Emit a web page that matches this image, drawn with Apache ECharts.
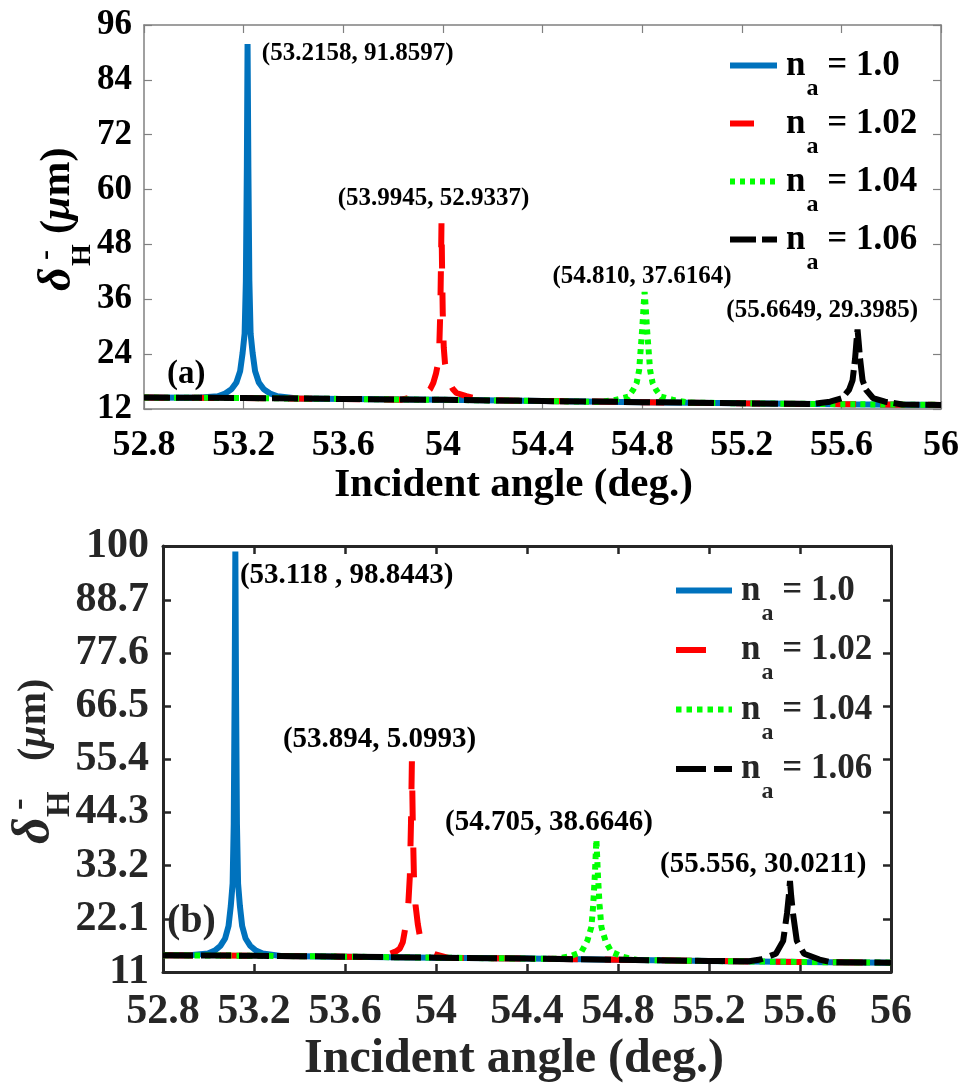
<!DOCTYPE html>
<html>
<head>
<meta charset="utf-8">
<script src="https://cdn.jsdelivr.net/npm/echarts@6/dist/echarts.min.js"></script>
<style>
html, body { margin: 0; padding: 0; background: #fff; }
#chart { width: 962px; height: 1085px; }
</style>
</head>
<body>
<div id="chart"></div>
<script>
var naLabels = ['1.0', '1.02', '1.04', '1.06'];
var colors = ['#0072bd', '#ff0000', '#00ff00', '#000000'];

// floor of the curves, read every 0.4 deg
var baseAngles = [52.8, 53.2, 53.6, 54.0, 54.4, 54.8, 55.2, 55.6, 56.0];
var baseA = [14.5, 14.4, 14.2, 14.0, 13.75, 13.5, 13.25, 13.05, 12.9];
var baseB = [14.5, 14.4, 14.2, 14.0, 13.8, 13.55, 13.3, 13.1, 12.95];

// panel (a) resonances
var angA1 = [53.016, 53.096, 53.126, 53.151, 53.171, 53.186, 53.196, 53.204, 53.209, 53.213, 53.2158, 53.219, 53.223, 53.228, 53.236, 53.246, 53.261, 53.281, 53.306, 53.336, 53.416];
var valA1 = [14.45, 14.8, 15.4, 16.3, 17.8, 20.3, 24.3, 28.5, 40, 65, 91.8597, 65, 40, 28.5, 24.3, 20.3, 17.8, 16.3, 15.4, 14.8, 14.3];
var angA2 = [53.8345, 53.8945, 53.9345, 53.9495, 53.9615, 53.9725, 53.9805, 53.9855, 53.9895, 53.9925, 53.9945, 53.9965, 53.9995, 54.0035, 54.0085, 54.0165, 54.0275, 54.0395, 54.0545, 54.0945, 54.1545];
var valA2 = [14.05, 14.8, 15.5, 16.4, 17.7, 19.8, 22, 25.5, 33, 44, 52.9337, 44, 33, 25.5, 22, 19.8, 17.7, 16.4, 15.5, 14.8, 13.95];
var angA3 = [54.63, 54.693, 54.744, 54.764, 54.778, 54.788, 54.794, 54.801, 54.806, 54.81, 54.814, 54.819, 54.826, 54.832, 54.842, 54.856, 54.876, 54.927, 54.99];
var valA3 = [13.55, 14.0, 14.7, 16.2, 17.7, 20.5, 24.9, 30, 34.5, 37.6164, 34.5, 30, 24.9, 20.5, 17.7, 16.2, 14.7, 13.95, 13.4];
var angA4 = [55.485, 55.555, 55.603, 55.631, 55.645, 55.655, 55.6609, 55.6649, 55.6689, 55.675, 55.685, 55.699, 55.727, 55.775, 55.845];
var valA4 = [13.1, 13.6, 14.4, 16.2, 18.3, 23, 27, 29.3985, 27, 23, 18.3, 16.2, 14.4, 13.6, 13.0];

// panel (b) resonances
var angB1 = [52.918, 52.998, 53.028, 53.053, 53.073, 53.088, 53.098, 53.106, 53.111, 53.115, 53.118, 53.121, 53.125, 53.130, 53.138, 53.148, 53.163, 53.183, 53.208, 53.238, 53.318];
var valB1 = [14.5, 14.85, 15.5, 16.5, 18.0, 20.6, 24.8, 29.5, 42, 70, 98.8443, 70, 42, 29.5, 24.8, 20.6, 18.0, 16.5, 15.5, 14.85, 14.35];
var angB2 = [53.734, 53.794, 53.824, 53.841, 53.854, 53.868, 53.878, 53.885, 53.890, 53.894, 53.898, 53.903, 53.910, 53.920, 53.934, 53.947, 53.964, 53.994, 54.054];
var valB2 = [14.1, 14.75, 15.3, 15.9, 17.2, 21, 25, 31, 42, 55.0, 42, 31, 25, 21, 17.2, 15.9, 15.3, 14.75, 13.95];
var angB3 = [54.525, 54.59, 54.639, 54.665, 54.683, 54.691, 54.698, 54.702, 54.705, 54.708, 54.712, 54.719, 54.727, 54.745, 54.771, 54.82, 54.885];
var valB3 = [13.75, 14.3, 15.2, 17.5, 20.4, 25, 31, 35.5, 38.6646, 35.5, 31, 25, 20.4, 17.5, 15.2, 14.2, 13.5];
var angB4 = [55.376, 55.426, 55.494, 55.526, 55.543, 55.551, 55.556, 55.561, 55.569, 55.586, 55.618, 55.686, 55.736];
var valB4 = [13.25, 13.6, 14.8, 17.5, 23.3, 27, 30.0211, 27, 23.3, 17.5, 14.8, 13.6, 13.05];

var peakTextA = ['(53.2158, 91.8597)', '(53.9945, 52.9337)', '(54.810, 37.6164)', '(55.6649, 29.3985)'];
var peakTextB = ['(53.118 , 98.8443)', '(53.894, 5.0993)', '(54.705, 38.6646)', '(55.556, 30.0211)'];

var yTicksB = [11, 22.1, 33.2, 44.3, 55.4, 66.5, 77.6, 88.7, 100];

var FONT = '"Liberation Serif", "Times New Roman", serif';
var GREY = '#262626';

// where each peak caption sits (data coordinates of its left-middle point)
var captionAtA = [[53.273, 89.66], [53.578, 57.94], [54.440, 40.875], [55.138, 33.44]];
var captionAtB = [[53.138, 93.8], [53.327, 59.5], [54.040, 42.3], [54.985, 33.4]];

var dashA = ['solid', [24, 24], [5, 5], [26, 6]];
var dashB = ['solid', [30, 27], [5.5, 5], [30, 8]];

function withBaseline(bx, by, px, py) {
    var pts = [];
    var lo = px[0], hi = px[px.length - 1];
    bx.forEach(function (x, i) { if (x < lo) pts.push([x, by[i]]); });
    px.forEach(function (x, i) { pts.push([x, py[i]]); });
    bx.forEach(function (x, i) { if (x > hi) pts.push([x, by[i]]); });
    return pts;
}

var peaksA = [[angA1, valA1], [angA2, valA2], [angA3, valA3], [angA4, valA4]];
var peaksB = [[angB1, valB1], [angB2, valB2], [angB3, valB3], [angB4, valB4]];

function makeSeries(tag, axisIdx, peaks, base, dash, texts, at, fontSize) {
    return peaks.map(function (p, i) {
        return {
            name: tag + '|' + naLabels[i],
            type: 'line',
            xAxisIndex: axisIdx,
            yAxisIndex: axisIdx,
            data: withBaseline(baseAngles, base, p[0], p[1]),
            symbol: 'none',
            lineStyle: {color: colors[i], width: 6, type: dash[i]},
            itemStyle: {color: colors[i]},
            markPoint: {
                symbol: 'circle',
                symbolSize: 0,
                silent: true,
                label: {
                    show: true,
                    position: [0, 0],
                    align: 'left',
                    verticalAlign: 'middle',
                    formatter: texts[i],
                    fontFamily: FONT,
                    fontWeight: 'bold',
                    fontSize: fontSize,
                    color: '#000'
                },
                data: [{coord: at[i]}]
            }
        };
    });
}

function xAxisFor(grid, pos, show, o) {
    return {
        type: 'value', gridIndex: grid, position: pos,
        min: 52.8, max: 56, interval: 0.4,
        axisLine: {show: true, onZero: false, lineStyle: {color: o.line, width: o.lw}},
        axisTick: {show: true, inside: true, length: 8, lineStyle: {color: o.line, width: o.tw}},
        axisLabel: {
            show: show, margin: o.margin, fontFamily: FONT, fontWeight: 'bold',
            fontSize: o.fs, color: o.color, showMinLabel: true, showMaxLabel: true
        },
        splitLine: {show: false},
        name: show ? 'Incident angle (deg.)' : '',
        nameLocation: 'middle',
        nameGap: o.nameGap,
        nameTextStyle: {
            fontFamily: FONT, fontWeight: 'bold', fontSize: o.nfs, color: o.color,
            padding: [0, o.shift, 0, 0]
        }
    };
}

var styleA = {line: '#808080', lw: 1.5, tw: 1.2, margin: 19, fs: 36, color: '#000', nameGap: 55, nfs: 41, shift: 58};
var styleB = {line: GREY, lw: 3, tw: 2.5, margin: 19, fs: 42, color: GREY, nameGap: 64, nfs: 48, shift: 26};

var legendRich = function (color) {
    return {
        n: {fontFamily: FONT, fontWeight: 'bold', fontSize: 35, color: color, padding: [0, 0, 0, 4]},
        s: {fontFamily: FONT, fontWeight: 'bold', fontSize: 24, color: color, padding: [46, 0, 0, 1]},
        v: {fontFamily: FONT, fontWeight: 'bold', fontSize: 35, color: color}
    };
};
var legendFmt = function (name) {
    return '{n|n}{s|a}{v| = ' + name.split('|')[1] + '}';
};

function yTitle(x, y, color, d) {
    var t = function (text, lx, ly, size, italic) {
        return {
            type: 'text', x: lx, y: ly,
            style: {
                text: text, fontFamily: FONT, fontWeight: 'bold', fontStyle: italic ? 'italic' : 'normal',
                fontSize: size, fill: color, align: 'left', verticalAlign: 'middle'
            }
        };
    };
    return {
        type: 'group', x: x, y: y, rotation: Math.PI / 2,
        children: [
            t('δ', 0, 0, d.delta, true),
            t('H', d.hx, 25, d.sub, false),
            t('-', d.mx, d.my, d.sub + 2, false),
            t('(', d.px, 0, d.paren, false),
            t('μ', d.px + d.paren * 0.333, 0, d.paren, true),
            t('m)', d.px + d.paren * 0.333 + d.paren * 0.56, 0, d.paren, false)
        ]
    };
}

var chart = echarts.init(document.getElementById('chart'));

var option = {
    animation: false,
    backgroundColor: '#fff',
    grid: [
        {left: 144, top: 25, width: 798, height: 384},
        {left: 163, top: 546, width: 728, height: 430}
    ],
    xAxis: [
        xAxisFor(0, 'bottom', true, styleA),
        xAxisFor(0, 'top', false, styleA),
        xAxisFor(1, 'bottom', true, styleB),
        xAxisFor(1, 'top', false, styleB)
    ],
    yAxis: [
        {
            type: 'value', gridIndex: 0, position: 'left', min: 12, max: 96, interval: 12,
            axisLine: {show: true, lineStyle: {color: styleA.line, width: styleA.lw}},
            axisTick: {inside: true, length: 8, lineStyle: {color: styleA.line, width: styleA.tw}},
            axisLabel: {margin: 12, fontFamily: FONT, fontWeight: 'bold', fontSize: 35, color: '#000'},
            splitLine: {show: false}
        },
        {
            type: 'value', gridIndex: 0, position: 'right', min: 12, max: 96, interval: 12,
            axisLine: {show: true, lineStyle: {color: styleA.line, width: styleA.lw}},
            axisTick: {inside: true, length: 8, lineStyle: {color: styleA.line, width: styleA.tw}},
            axisLabel: {show: false},
            splitLine: {show: false}
        },
        {
            type: 'value', gridIndex: 1, position: 'left', min: 11, max: 100,
            axisLine: {show: true, lineStyle: {color: GREY, width: 3}},
            axisTick: {inside: true, length: 8, customValues: yTicksB, lineStyle: {color: GREY, width: 2.5}},
            axisLabel: {
                margin: 14, customValues: yTicksB, fontFamily: FONT, fontWeight: 'bold',
                fontSize: 42, color: GREY
            },
            splitLine: {show: false}
        },
        {
            type: 'value', gridIndex: 1, position: 'right', min: 11, max: 100,
            axisLine: {show: true, lineStyle: {color: GREY, width: 3}},
            axisTick: {inside: true, length: 8, customValues: yTicksB, lineStyle: {color: GREY, width: 2.5}},
            axisLabel: {show: false},
            splitLine: {show: false}
        }
    ],
    legend: [
        {
            left: 722, top: 43, orient: 'vertical',
            itemWidth: 47, itemHeight: 14, itemGap: 5.5,
            data: naLabels.map(function (v) { return 'a|' + v; }),
            formatter: legendFmt,
            textStyle: {rich: legendRich('#000')},
            lineStyle: {width: 6},
            itemStyle: {opacity: 0},
            selectedMode: false
        },
        {
            left: 668, top: 568, orient: 'vertical',
            itemWidth: 56, itemHeight: 14, itemGap: 7,
            data: naLabels.map(function (v) { return 'b|' + v; }),
            formatter: legendFmt,
            textStyle: {rich: legendRich(GREY)},
            lineStyle: {width: 6},
            itemStyle: {opacity: 0},
            selectedMode: false
        }
    ],
    graphic: [
        {
            type: 'text', left: 167, top: 358,
            style: {text: '(a)', fontFamily: FONT, fontWeight: 'bold', fontSize: 33, fill: '#000'}
        },
        {
            type: 'text', left: 167, top: 902,
            style: {text: '(b)', fontFamily: FONT, fontWeight: 'bold', fontSize: 40, fill: GREY}
        },
        yTitle(58, 291, '#000', {delta: 46, sub: 28, hx: 25, mx: 31, my: -12, px: 57, paren: 42}),
        yTitle(35, 844, GREY, {delta: 52, sub: 33, hx: 27, mx: 34, my: -15, px: 83, paren: 40})
    ],
    series: [].concat(
        makeSeries('a', 0, peaksA, baseA, dashA, peakTextA, captionAtA, 25),
        makeSeries('b', 2, peaksB, baseB, dashB, peakTextB, captionAtB, 29)
    )
};

chart.setOption(option);
</script>
</body>
</html>
